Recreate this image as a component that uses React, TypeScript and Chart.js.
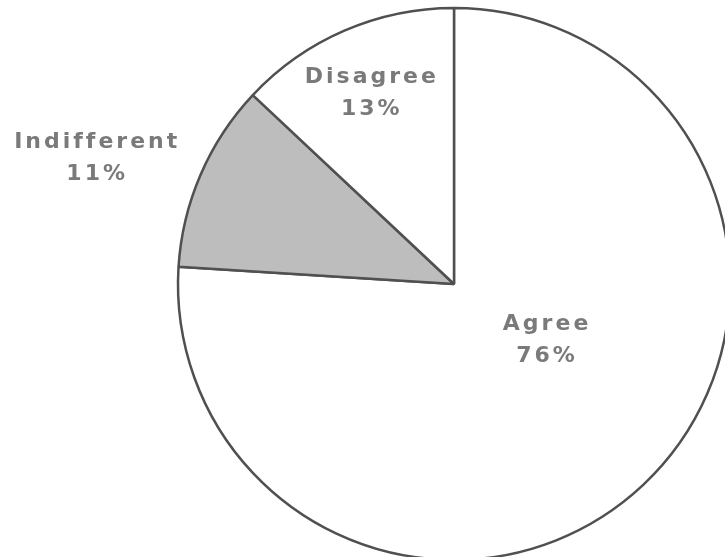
import React, { useEffect, useRef } from "react";
import { Chart, registerables } from "chart.js";

Chart.register(...registerables);

// Survey responses (percent)
const categories = ["Agree", "Indifferent", "Disagree"];
const shares = [76, 11, 13];
const sliceColors = ["#ffffff", "#bdbdbd", "#ffffff"];

// Label anchor offsets, as fractions of the pie radius from its centre
const labelOffsets = [
  { dx: 0.33, dy: 0.205 },
  { dx: -1.3, dy: -0.455 },
  { dx: -0.305, dy: -0.69 },
];

const sliceLabels = {
  id: "sliceLabels",
  afterDatasetsDraw(chart: any) {
    const meta = chart.getDatasetMeta(0);
    const arc = meta.data[0];
    if (!arc) return;
    const { x, y, outerRadius } = arc.getProps(["x", "y", "outerRadius"], true);
    const ctx = chart.ctx as CanvasRenderingContext2D;
    ctx.save();
    ctx.font = "bold 22px 'DejaVu Sans', Verdana, sans-serif";
    (ctx as any).letterSpacing = "3px";
    ctx.fillStyle = "#7a7a7a";
    ctx.textAlign = "center";
    ctx.textBaseline = "middle";
    categories.forEach((name, i) => {
      const off = labelOffsets[i];
      const cx = x + off.dx * outerRadius;
      const cy = y + off.dy * outerRadius;
      ctx.fillText(name, cx + 2, cy - 16);
      ctx.fillText(`${shares[i]}%`, cx + 2, cy + 16);
    });
    ctx.restore();
  },
};

export default function App() {
  const canvasRef = useRef<HTMLCanvasElement | null>(null);

  useEffect(() => {
    const canvas = canvasRef.current;
    if (!canvas) return;
    const chart = new Chart(canvas, {
      type: "pie",
      data: {
        labels: categories,
        datasets: [
          {
            data: shares,
            backgroundColor: sliceColors,
            borderColor: "#505050",
            borderWidth: 2.5,
            radius: 276,
          },
        ],
      },
      options: {
        responsive: false,
        maintainAspectRatio: false,
        animation: false,
        rotation: 0,
        layout: { padding: 0 },
        plugins: {
          legend: { display: false },
          tooltip: { enabled: false },
          title: { display: false },
        },
      },
      plugins: [sliceLabels],
    });
    return () => chart.destroy();
  }, []);

  return (
    <div
      style={{
        position: "fixed",
        left: 0,
        top: 0,
        width: 725,
        height: 557,
        overflow: "hidden",
        background: "#ffffff",
      }}
    >
      <canvas
        ref={canvasRef}
        width={908}
        height={568}
        style={{ position: "absolute", left: 0, top: 0, width: 908, height: 568 }}
      />
    </div>
  );
}
